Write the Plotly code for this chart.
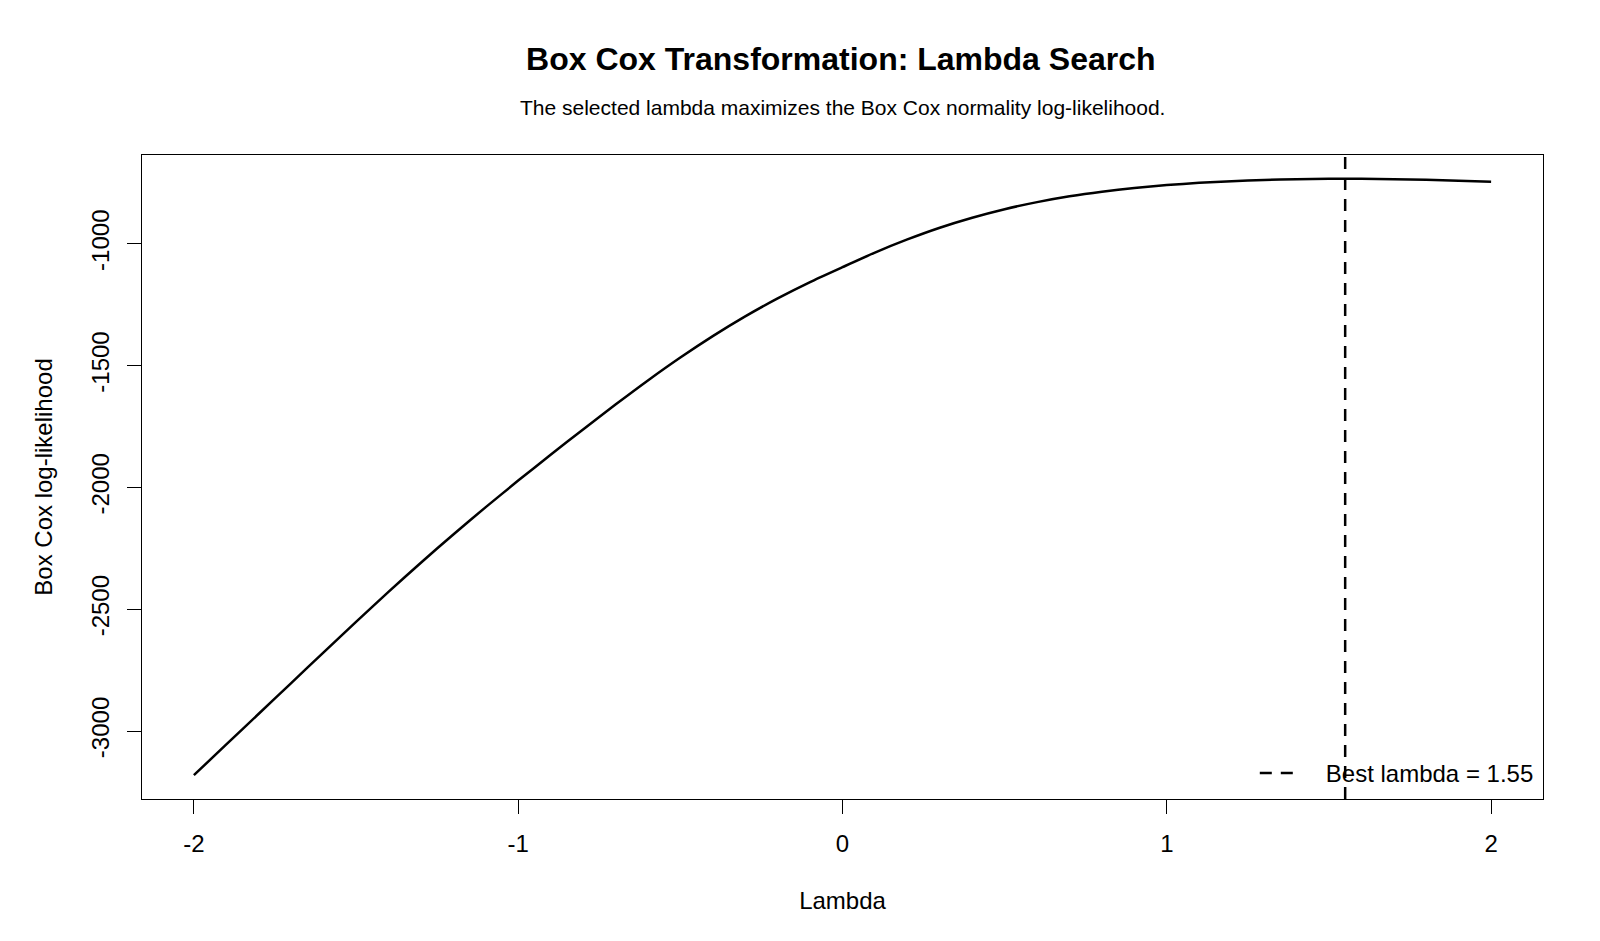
import plotly.graph_objects as go

# Box-Cox log-likelihood profile
lambdas = [-2.0, -1.9, -1.8, -1.7, -1.6, -1.5, -1.4, -1.3, -1.2, -1.1, -1.0,
           -0.9, -0.8, -0.7, -0.6, -0.5, -0.4, -0.3, -0.2, -0.1, 0.0,
           0.1, 0.2, 0.3, 0.4, 0.5, 0.6, 0.7, 0.8, 0.9, 1.0,
           1.1, 1.2, 1.3, 1.4, 1.5, 1.6, 1.7, 1.8, 1.9, 2.0]
loglik = [-3181, -3055, -2929, -2803, -2677, -2552, -2429, -2309, -2193, -2081, -1972,
          -1866, -1762, -1660, -1561, -1467, -1379, -1298, -1224, -1157, -1096,
          -1036, -982, -934, -893, -858, -829, -805, -786, -771, -759,
          -750, -743, -738, -735, -733.5, -733.5, -735, -737.5, -741, -745]
best_lambda = 1.55

x_ticks = [-2, -1, 0, 1, 2]
y_ticks = [-3000, -2500, -2000, -1500, -1000]

FONT = "Liberation Sans, Arial, sans-serif"

# R-style 4% axis extension
xmin, xmax = min(lambdas), max(lambdas)
ymin, ymax = min(loglik), max(loglik)
xpad = 0.04 * (xmax - xmin)
ypad = 0.04 * (ymax - ymin)

fig = go.Figure()
fig.add_trace(go.Scatter(
    x=lambdas, y=loglik, mode="lines", line_shape="spline",
    line=dict(color="black", width=2.5, smoothing=0.6),
    showlegend=False, hoverinfo="x+y",
))

fig.add_shape(
    type="line", xref="x", yref="paper",
    x0=best_lambda, x1=best_lambda, y0=0, y1=1,
    line=dict(color="black", width=2.5, dash="12px,9px"),
    showlegend=True,
    name="\u00a0\u00a0\u00a0" + f"Best lambda = {best_lambda:.2f}",
)

fig.update_layout(
    width=1600, height=941,
    paper_bgcolor="white", plot_bgcolor="white",
    margin=dict(l=142, r=57, t=155, b=142, autoexpand=False),
    font=dict(family=FONT, size=24, color="black"),
    title=dict(
        text="<b>Box Cox Transformation: Lambda Search</b>",
        x=0.5255, xanchor="center", xref="container",
        y=1 - 59 / 941, yanchor="middle", yref="container",
        font=dict(family=FONT, size=32, color="black"),
    ),
    showlegend=True,
    legend=dict(
        x=0.997, xanchor="right", y=0.005, yanchor="bottom",
        bgcolor="rgba(0,0,0,0)", borderwidth=0, itemwidth=41,
        font=dict(family=FONT, size=24, color="black"),
    ),
    annotations=[dict(
        text="The selected lambda maximizes the Box Cox normality log-likelihood.",
        xref="paper", yref="paper", x=0.5, y=1 + (155 - 107) / 644,
        xanchor="center", yanchor="middle", showarrow=False,
        font=dict(family=FONT, size=21, color="black"),
    )],
)

fig.update_xaxes(
    range=[xmin - xpad, xmax + xpad],
    tickvals=x_ticks, ticktext=[str(v) for v in x_ticks],
    ticks="outside", ticklen=14, tickwidth=1, tickcolor="black",
    ticklabelstandoff=9,
    showline=True, linecolor="black", linewidth=1, mirror=True,
    showgrid=False, zeroline=False,
    title=dict(text="Lambda", standoff=36, font=dict(size=24)),
    tickfont=dict(size=24),
)
fig.update_yaxes(
    range=[ymin - ypad, ymax + ypad],
    tickvals=y_ticks, ticktext=[str(v) for v in y_ticks],
    tickangle=-90,
    ticks="outside", ticklen=14, tickwidth=1, tickcolor="black",
    ticklabelstandoff=8,
    showline=True, linecolor="black", linewidth=1, mirror=True,
    showgrid=False, zeroline=False,
    title=dict(text="Box Cox log-likelihood", standoff=28, font=dict(size=24)),
    tickfont=dict(size=24),
)

fig.write_html("out.html")
